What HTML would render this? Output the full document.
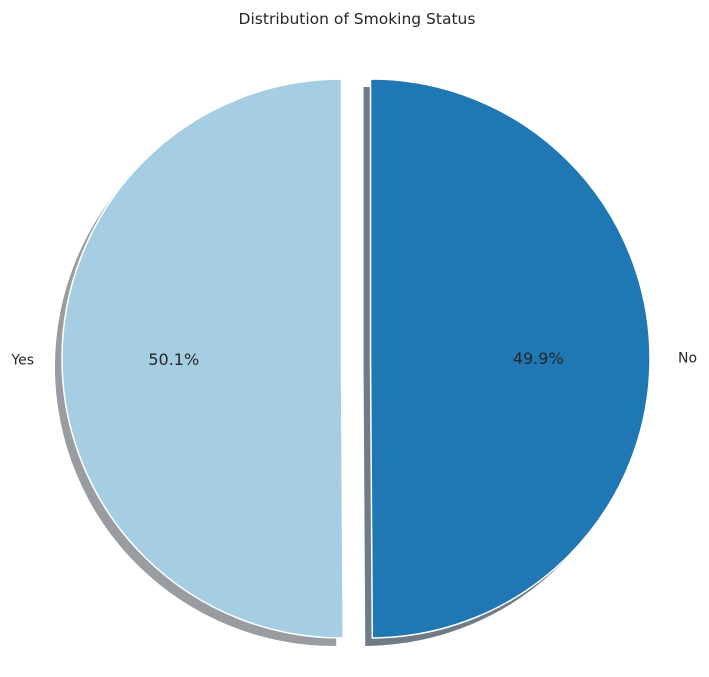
<!DOCTYPE html>
<html><head><meta charset="utf-8"><style>
html,body{margin:0;padding:0;background:#fff;}
svg{display:block;font-family:"DejaVu Sans","Liberation Sans",sans-serif;}
</style></head><body>
<svg id="chart" width="709" height="677" viewBox="0 0 709 677">
<text x="357" y="24" text-anchor="middle" font-size="15.5" fill="#262626">Distribution of Smoking Status</text>
<g id="shadows"></g>
<g id="wedges"></g>
<g id="labels"></g>
</svg>
<script>
const categories = ["Yes", "No"];
const values = [50.1, 49.9];
const explode = [0.052, 0.052];
const colors = ["#a6cee3", "#1f78b4"];
const shadowColors = ["#999da1", "#6f7b86"];

const cx = 356, cy = 358.5, R = 279.5, startAngle = 90;
const svgNS = "http://www.w3.org/2000/svg";
const total = values.reduce((a,b)=>a+b,0);
const rad = d => d*Math.PI/180;
function pt(x,y,r,a){return [x + r*Math.cos(rad(a)), y - r*Math.sin(rad(a))];}
function wedgePath(x,y,r,a0,a1){
  const p0 = pt(x,y,r,a0), p1 = pt(x,y,r,a1);
  const large = (a1-a0) > 180 ? 1 : 0;
  return `M${x},${y} L${p0[0]},${p0[1]} A${r},${r} 0 ${large} 0 ${p1[0]},${p1[1]} Z`;
}
const shadowG = document.getElementById('shadows');
const wedgeG = document.getElementById('wedges');
const labelG = document.getElementById('labels');
let a = startAngle;
values.forEach((v,i)=>{
  const sweep = v/total*360;
  const mid = a + sweep/2;
  const off = explode[i]*R;
  const wx = cx + off*Math.cos(rad(mid)), wy = cy - off*Math.sin(rad(mid));
  const d = wedgePath(wx,wy,R,a,a+sweep);

  const sh = document.createElementNS(svgNS,'path');
  sh.setAttribute('d', wedgePath(wx-7,wy+8,R,a,a+sweep));
  sh.setAttribute('fill', shadowColors[i]);
  
  
  shadowG.appendChild(sh);

  const w = document.createElementNS(svgNS,'path');
  w.setAttribute('d', d);
  w.setAttribute('fill', colors[i]);
  w.setAttribute('stroke', '#ffffff');
  w.setAttribute('stroke-width', '1.5');
  w.setAttribute('stroke-linejoin', 'round');
  
  
  wedgeG.appendChild(w);

  const lp = pt(wx,wy,R*1.1,mid);
  const lt = document.createElementNS(svgNS,'text');
  lt.setAttribute('x', lp[0]);
  lt.setAttribute('y', lp[1]+5);
  lt.setAttribute('font-size','14');
  lt.setAttribute('fill','#262626');
  lt.setAttribute('text-anchor', Math.cos(rad(mid))<0 ? 'end' : 'start');
  lt.textContent = categories[i];
  
  
  labelG.appendChild(lt);

  const pp = pt(wx,wy,R*0.6,mid);
  const pc = document.createElementNS(svgNS,'text');
  pc.setAttribute('x', pp[0]);
  pc.setAttribute('y', pp[1]+6);
  pc.setAttribute('font-size','16');
  pc.setAttribute('fill','#262626');
  pc.setAttribute('text-anchor','middle');
  pc.textContent = (v/total*100).toFixed(1) + '%';
  
  
  labelG.appendChild(pc);

  a += sweep;
});
</script>
</body></html>
